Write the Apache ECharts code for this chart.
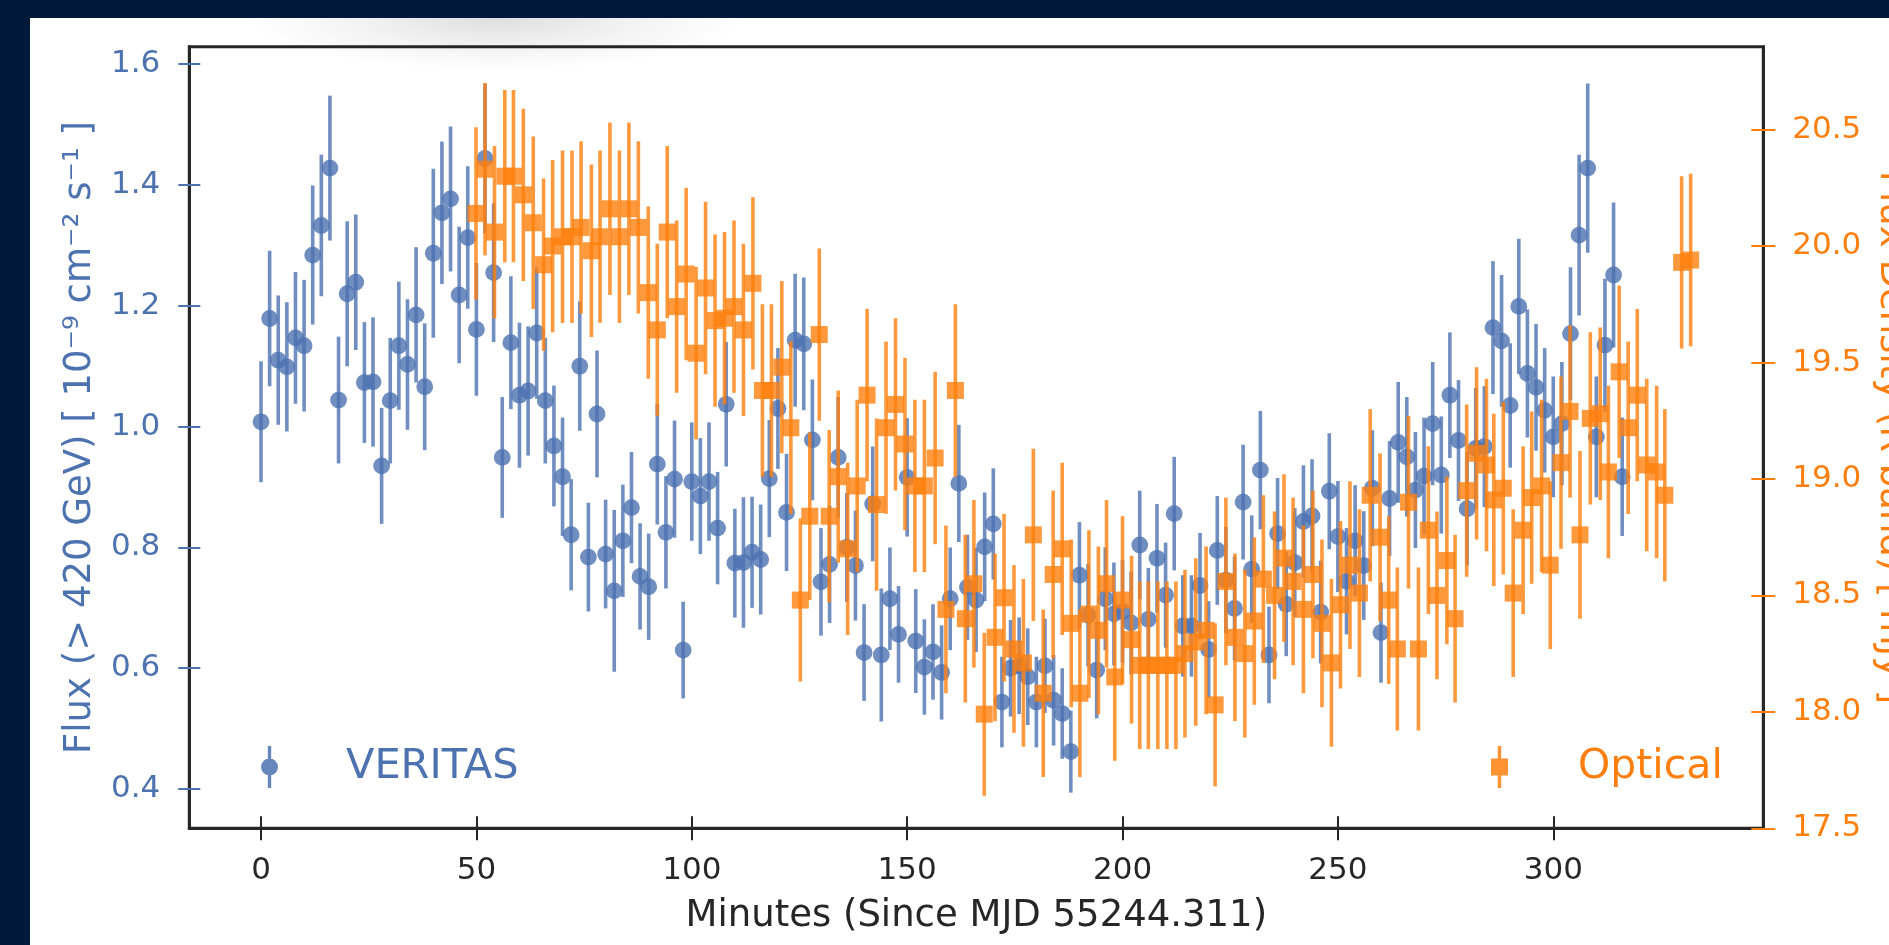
<!DOCTYPE html>
<html>
<head>
<meta charset="utf-8">
<title>VERITAS and optical light curve</title>
<script src="https://cdn.jsdelivr.net/npm/echarts@6.0.0/dist/echarts.min.js"></script>
<style>
  html, body { margin: 0; padding: 0; width: 1889px; height: 945px; overflow: hidden; background: #011a3a; }
  #chart { position: absolute; left: 30px; top: 18px; width: 1859px; height: 927px; background: #ffffff; }
</style>
</head>
<body>
<div id="chart"></div>
<script>
// VERITAS gamma-ray flux (> 420 GeV), 10^-9 cm^-2 s^-1, in 2-minute bins
const veritasMinutes = [
  0, 2, 4, 6, 8, 10, 12, 14, 16, 18, 20, 22, 24, 26, 28, 30, 32, 34, 36, 38,
  40, 42, 44, 46, 48, 50, 52, 54, 56, 58, 60, 62, 64, 66, 68, 70, 72, 74, 76, 78,
  80, 82, 84, 86, 88, 90, 92, 94, 96, 98, 100, 102, 104, 106, 108, 110, 112, 114, 116, 118,
  120, 122, 124, 126, 128, 130, 132, 134, 136, 138, 140, 142, 144, 146, 148, 150, 152, 154, 156, 158,
  160, 162, 164, 166, 168, 170, 172, 174, 176, 178, 180, 182, 184, 186, 188, 190, 192, 194, 196, 198,
  200, 202, 204, 206, 208, 210, 212, 214, 216, 218, 220, 222, 224, 226, 228, 230, 232, 234, 236, 238,
  240, 242, 244, 246, 248, 250, 252, 254, 256, 258, 260, 262, 264, 266, 268, 270, 272, 274, 276, 278,
  280, 282, 284, 286, 288, 290, 292, 294, 296, 298, 300, 302, 304, 306, 308, 310, 312, 314, 316
];
const veritasFlux = [
  1.008, 1.179, 1.110, 1.099, 1.147, 1.134, 1.284, 1.333, 1.428, 1.044, 1.220, 1.239, 1.073, 1.074, 0.935, 1.043, 1.134, 1.103, 1.185, 1.066,
  1.287, 1.354, 1.377, 1.218, 1.313, 1.161, 1.444, 1.255, 0.949, 1.139, 1.052, 1.059, 1.155, 1.043, 0.968, 0.917, 0.821, 1.100, 0.784, 1.021,
  0.789, 0.728, 0.811, 0.866, 0.752, 0.735, 0.938, 0.825, 0.913, 0.630, 0.909, 0.885, 0.909, 0.832, 1.037, 0.774, 0.775, 0.792, 0.780, 0.914,
  1.030, 0.858, 1.143, 1.137, 0.978, 0.743, 0.772, 0.949, 0.800, 0.770, 0.626, 0.872, 0.622, 0.715, 0.656, 0.916, 0.645, 0.602, 0.627, 0.593,
  0.715, 0.906, 0.734, 0.713, 0.801, 0.839, 0.544, 0.600, 0.604, 0.586, 0.544, 0.604, 0.547, 0.525, 0.462, 0.754, 0.688, 0.597, 0.715, 0.690,
  0.694, 0.675, 0.804, 0.681, 0.782, 0.721, 0.856, 0.670, 0.670, 0.737, 0.631, 0.795, 0.746, 0.699, 0.875, 0.764, 0.928, 0.622, 0.823, 0.706,
  0.775, 0.843, 0.852, 0.693, 0.893, 0.818, 0.744, 0.811, 0.770, 0.898, 0.659, 0.881, 0.974, 0.950, 0.895, 0.918, 1.005, 0.920, 1.052, 0.977,
  0.864, 0.964, 0.967, 1.164, 1.142, 1.035, 1.199, 1.088, 1.065, 1.027, 0.983, 1.005, 1.154, 1.317, 1.428, 0.983, 1.135, 1.251, 0.917
];
const veritasErr = [
  0.100, 0.112, 0.107, 0.107, 0.109, 0.109, 0.115, 0.117, 0.120, 0.105, 0.120, 0.112, 0.100, 0.107, 0.096, 0.104, 0.106, 0.108, 0.112, 0.105,
  0.140, 0.118, 0.120, 0.113, 0.118, 0.110, 0.124, 0.115, 0.100, 0.110, 0.120, 0.107, 0.109, 0.104, 0.100, 0.098, 0.092, 0.107, 0.090, 0.105,
  0.090, 0.134, 0.093, 0.092, 0.088, 0.088, 0.100, 0.093, 0.097, 0.080, 0.098, 0.096, 0.098, 0.093, 0.103, 0.090, 0.108, 0.092, 0.091, 0.097,
  0.100, 0.097, 0.110, 0.110, 0.100, 0.089, 0.097, 0.100, 0.090, 0.091, 0.080, 0.095, 0.110, 0.085, 0.080, 0.098, 0.086, 0.079, 0.079, 0.078,
  0.085, 0.097, 0.087, 0.086, 0.090, 0.092, 0.075, 0.080, 0.080, 0.080, 0.075, 0.078, 0.075, 0.075, 0.068, 0.088, 0.085, 0.080, 0.085, 0.085,
  0.085, 0.085, 0.090, 0.085, 0.090, 0.087, 0.094, 0.084, 0.084, 0.087, 0.080, 0.090, 0.088, 0.086, 0.095, 0.089, 0.098, 0.080, 0.092, 0.086,
  0.090, 0.093, 0.094, 0.085, 0.096, 0.092, 0.088, 0.092, 0.090, 0.096, 0.083, 0.095, 0.100, 0.099, 0.096, 0.097, 0.102, 0.097, 0.104, 0.100,
  0.094, 0.100, 0.100, 0.110, 0.109, 0.103, 0.112, 0.106, 0.105, 0.103, 0.100, 0.102, 0.110, 0.133, 0.140, 0.100, 0.110, 0.120, 0.098
];

// Optical R-band flux density (mJy)
const opticalMinutes = [
  49.9, 52.0, 54.2, 56.6, 58.6, 60.9, 63.2, 65.6, 67.7, 70.0, 72.2, 74.3, 76.7, 78.7, 81.0, 83.2, 85.4, 87.6, 89.9, 92.0,
  94.3, 96.5, 98.7, 101.0, 103.2, 105.4, 107.6, 109.8, 112.0, 114.2, 116.4, 118.5, 120.9, 123.0, 125.2, 127.4, 129.6, 131.9, 134.0, 136.2,
  138.4, 140.7, 142.9, 145.1, 147.3, 149.5, 151.8, 154.0, 156.5, 159.0, 161.2, 163.5, 165.5, 167.9, 170.4, 172.5, 174.8, 177.0, 179.3, 181.6,
  183.9, 186.0, 188.1, 190.1, 192.2, 194.4, 196.3, 198.2, 200.0, 202.1, 204.0, 206.0, 208.2, 210.3, 212.4, 214.5, 217.0, 219.4, 221.5, 224.0,
  226.1, 228.4, 230.6, 232.7, 235.3, 237.5, 239.6, 242.0, 244.2, 246.3, 248.5, 250.6, 252.8, 255.0, 257.5, 259.8, 261.8, 263.8, 266.4, 268.7,
  271.0, 273.0, 275.3, 277.2, 279.9, 282.2, 284.5, 286.2, 288.4, 290.7, 293.0, 295.0, 297.3, 299.3, 301.8, 303.9, 306.2, 308.6, 310.9, 312.8,
  315.3, 317.4, 319.5, 321.7, 324.0, 325.9, 329.8, 331.9
];
const opticalFlux = [
  20.14, 20.33, 20.06, 20.30, 20.30, 20.22, 20.10, 19.92, 20.00, 20.04, 20.04, 20.08, 19.98, 20.04, 20.16, 20.04, 20.16, 20.08, 19.80, 19.64,
  20.06, 19.74, 19.88, 19.54, 19.82, 19.68, 19.69, 19.74, 19.64, 19.84, 19.38, 19.38, 19.48, 19.22, 18.48, 18.84, 19.62, 18.84, 19.01, 18.70,
  18.97, 19.36, 18.89, 19.22, 19.32, 19.15, 18.97, 18.97, 19.09, 18.44, 19.38, 18.40, 18.55, 17.99, 18.32, 18.49, 18.27, 18.21, 18.76, 18.08,
  18.59, 18.70, 18.38, 18.08, 18.42, 18.35, 18.55, 18.15, 18.48, 18.31, 18.20, 18.20, 18.20, 18.20, 18.20, 18.25, 18.30, 18.35, 18.03, 18.56,
  18.32, 18.25, 18.39, 18.57, 18.50, 18.66, 18.56, 18.44, 18.59, 18.38, 18.21, 18.46, 18.63, 18.51, 18.93, 18.75, 18.48, 18.27, 18.90, 18.27,
  18.78, 18.50, 18.65, 18.40, 18.95, 19.11, 19.06, 18.91, 18.96, 18.51, 18.78, 18.92, 18.97, 18.63, 19.07, 19.29, 18.76, 19.26, 19.28, 19.03,
  19.46, 19.22, 19.36, 19.06, 19.03, 18.93, 19.93, 19.94
];
const opticalErr = [
  0.37, 0.37, 0.37, 0.37, 0.37, 0.37, 0.37, 0.37, 0.37, 0.37, 0.37, 0.37, 0.37, 0.37, 0.37, 0.37, 0.37, 0.37, 0.37, 0.37,
  0.37, 0.37, 0.37, 0.37, 0.37, 0.37, 0.37, 0.37, 0.37, 0.37, 0.37, 0.37, 0.37, 0.37, 0.35, 0.36, 0.37, 0.37, 0.37, 0.37,
  0.37, 0.37, 0.37, 0.37, 0.37, 0.37, 0.37, 0.37, 0.37, 0.36, 0.37, 0.36, 0.36, 0.35, 0.36, 0.36, 0.36, 0.36, 0.37, 0.36,
  0.36, 0.37, 0.36, 0.36, 0.36, 0.36, 0.36, 0.36, 0.36, 0.36, 0.36, 0.36, 0.36, 0.36, 0.36, 0.36, 0.36, 0.36, 0.35, 0.36,
  0.36, 0.36, 0.36, 0.36, 0.36, 0.36, 0.36, 0.36, 0.36, 0.36, 0.36, 0.36, 0.36, 0.36, 0.37, 0.36, 0.36, 0.35, 0.37, 0.35,
  0.36, 0.36, 0.36, 0.36, 0.37, 0.37, 0.37, 0.37, 0.37, 0.36, 0.36, 0.37, 0.37, 0.36, 0.37, 0.37, 0.36, 0.37, 0.37, 0.37,
  0.37, 0.37, 0.37, 0.37, 0.37, 0.37, 0.37, 0.37
];

const minuteTicks = [0, 50, 100, 150, 200, 250, 300];
const fluxTicks = [0.4, 0.6, 0.8, 1.0, 1.2, 1.4, 1.6];
const opticalTicks = [17.5, 18.0, 18.5, 19.0, 19.5, 20.0, 20.5];

const BLUE = '#4c72b0';
const ORANGE = '#ff7f0e';
const INK = '#262626';
const FONT = "'DejaVu Sans', sans-serif";

const veritasData = veritasMinutes.map((t, i) => [t, veritasFlux[i], veritasErr[i]]);
const opticalData = opticalMinutes.map((t, i) => [t, opticalFlux[i], opticalErr[i]]);

// Error bar with a marker, positioned through the cartesian axes
function errorBarItem(markerType, color) {
  return function (params, api) {
    const t = api.value(0), v = api.value(1), e = api.value(2);
    const c = api.coord([t, v]);
    const hi = api.coord([t, v + e]);
    const lo = api.coord([t, v - e]);
    const marker = markerType === 'circle'
      ? { type: 'circle', shape: { cx: c[0], cy: c[1], r: 8.4 }, style: { fill: color, opacity: 0.8 } }
      : { type: 'rect', shape: { x: c[0] - 8.5, y: c[1] - 8.5, width: 17, height: 17 }, style: { fill: color, opacity: 0.8 } };
    return {
      type: 'group',
      children: [
        { type: 'line', shape: { x1: hi[0], y1: hi[1], x2: lo[0], y2: lo[1] },
          style: { stroke: color, lineWidth: 3.6, opacity: 0.8 } },
        marker
      ]
    };
  };
}

const tickLabelStyle = { fontFamily: FONT, fontSize: 31 };

const chart = echarts.init(document.getElementById('chart'), null, { renderer: 'canvas' });
chart.setOption({
  animation: false,
  backgroundColor: '#ffffff',
  graphic: [
    {
      type: 'circle', x: 466, y: 0, scaleX: 4.8, scaleY: 1, silent: true, z: -10,
      shape: { cx: 0, cy: 0, r: 52 },
      style: {
        fill: {
          type: 'radial', x: 0.5, y: 0.5, r: 0.5,
          colorStops: [
            { offset: 0, color: 'rgba(0,0,0,0.13)' },
            { offset: 0.55, color: 'rgba(0,0,0,0.05)' },
            { offset: 1, color: 'rgba(0,0,0,0)' }
          ]
        }
      }
    }
  ],
  grid: {
    left: 159.3, top: 28.7, right: 125.7, bottom: 116.7,
    outerBoundsMode: 'none', containLabel: false,
    show: true, borderColor: INK, borderWidth: 3, backgroundColor: 'transparent'
  },
  legend: [
    {
      left: 231, top: 728, padding: 0, orient: 'horizontal', selectedMode: false,
      itemWidth: 17, itemHeight: 42,
      data: [{
        name: 'VERITAS',
        icon: 'path://M6.8,0 L10.2,0 L10.2,42 L6.8,42 Z M0,21 A8.5,8.5 0 1 1 17,21 A8.5,8.5 0 1 1 0,21 Z',
        itemStyle: { color: 'rgba(76,114,176,0.85)' }
      }],
      textStyle: { color: BLUE, fontFamily: FONT, fontSize: 41.5, padding: [0, 0, 0, 63] }
    },
    {
      left: 1461, top: 728, padding: 0, orient: 'horizontal', selectedMode: false,
      itemWidth: 17, itemHeight: 42,
      data: [{
        name: 'Optical',
        icon: 'path://M6.8,0 L10.2,0 L10.2,42 L6.8,42 Z M0,12.5 L17,12.5 L17,29.5 L0,29.5 Z',
        itemStyle: { color: 'rgba(255,127,14,0.85)' }
      }],
      textStyle: { color: ORANGE, fontFamily: FONT, fontSize: 41, padding: [0, 0, 0, 65] }
    }
  ],
  xAxis: [
    {
      type: 'value', position: 'bottom', min: -16.65, max: 348.76,
      name: 'Minutes (Since MJD 55244.311)', nameLocation: 'middle', nameGap: 70,
      nameTextStyle: { color: INK, fontFamily: FONT, fontSize: 37 },
      axisLine: { onZero: false, lineStyle: { color: INK, width: 3 } },
      axisTick: { show: true, inside: false, length: 12, customValues: minuteTicks, lineStyle: { color: INK, width: 2 } },
      axisLabel: { customValues: minuteTicks, color: INK, margin: 27, ...tickLabelStyle, formatter: v => String(v) },
      splitLine: { show: false }
    },
    {
      type: 'value', position: 'bottom', min: -16.65, max: 348.76,
      axisLine: { show: false, onZero: false },
      axisTick: { show: true, inside: true, length: 12, customValues: minuteTicks, lineStyle: { color: INK, width: 2 } },
      axisLabel: { show: false },
      splitLine: { show: false }
    }
  ],
  yAxis: [
    {
      type: 'value', position: 'left', min: 0.335, max: 1.629,
      name: 'Flux (> 420 GeV) [ 10⁻⁹ cm⁻² s⁻¹ ]', nameLocation: 'middle', nameGap: 90, nameRotate: 90,
      nameTextStyle: { color: BLUE, fontFamily: FONT, fontSize: 37 },
      axisLine: { onZero: false, lineStyle: { color: INK, width: 3 } },
      axisTick: { show: true, inside: false, length: 11, customValues: fluxTicks, lineStyle: { color: BLUE, width: 2 } },
      axisLabel: { customValues: fluxTicks, color: BLUE, margin: 29, ...tickLabelStyle, formatter: v => v.toFixed(1) },
      splitLine: { show: false }
    },
    {
      type: 'value', position: 'left', min: 0.335, max: 1.629,
      axisLine: { show: false, onZero: false },
      axisTick: { show: true, inside: true, length: 11, customValues: fluxTicks, lineStyle: { color: BLUE, width: 2 } },
      axisLabel: { show: false },
      splitLine: { show: false }
    },
    {
      type: 'value', position: 'right', min: 17.5, max: 20.856,
      name: 'Flux Density (R band) [ mJy ]', nameLocation: 'middle', nameGap: 108, nameRotate: -90,
      nameTextStyle: { color: ORANGE, fontFamily: FONT, fontSize: 37 },
      axisLine: { onZero: false, lineStyle: { color: INK, width: 3 } },
      axisTick: { show: true, inside: false, length: 12, customValues: opticalTicks, lineStyle: { color: ORANGE, width: 2 } },
      axisLabel: { customValues: opticalTicks, color: ORANGE, margin: 29, ...tickLabelStyle, formatter: v => v.toFixed(1) },
      splitLine: { show: false }
    },
    {
      type: 'value', position: 'right', min: 17.5, max: 20.856,
      axisLine: { show: false, onZero: false },
      axisTick: { show: true, inside: true, length: 12, customValues: opticalTicks, lineStyle: { color: ORANGE, width: 2 } },
      axisLabel: { show: false },
      splitLine: { show: false }
    }
  ],
  series: [
    {
      name: 'VERITAS', type: 'custom', coordinateSystem: 'cartesian2d',
      xAxisIndex: 0, yAxisIndex: 0,
      itemStyle: { color: BLUE },
      renderItem: errorBarItem('circle', BLUE),
      encode: { x: 0, y: 1 },
      data: veritasData, z: 3
    },
    {
      name: 'Optical', type: 'custom', coordinateSystem: 'cartesian2d',
      xAxisIndex: 0, yAxisIndex: 2,
      itemStyle: { color: ORANGE },
      renderItem: errorBarItem('square', ORANGE),
      encode: { x: 0, y: 1 },
      data: opticalData, z: 4
    }
  ]
});
</script>
</body>
</html>
